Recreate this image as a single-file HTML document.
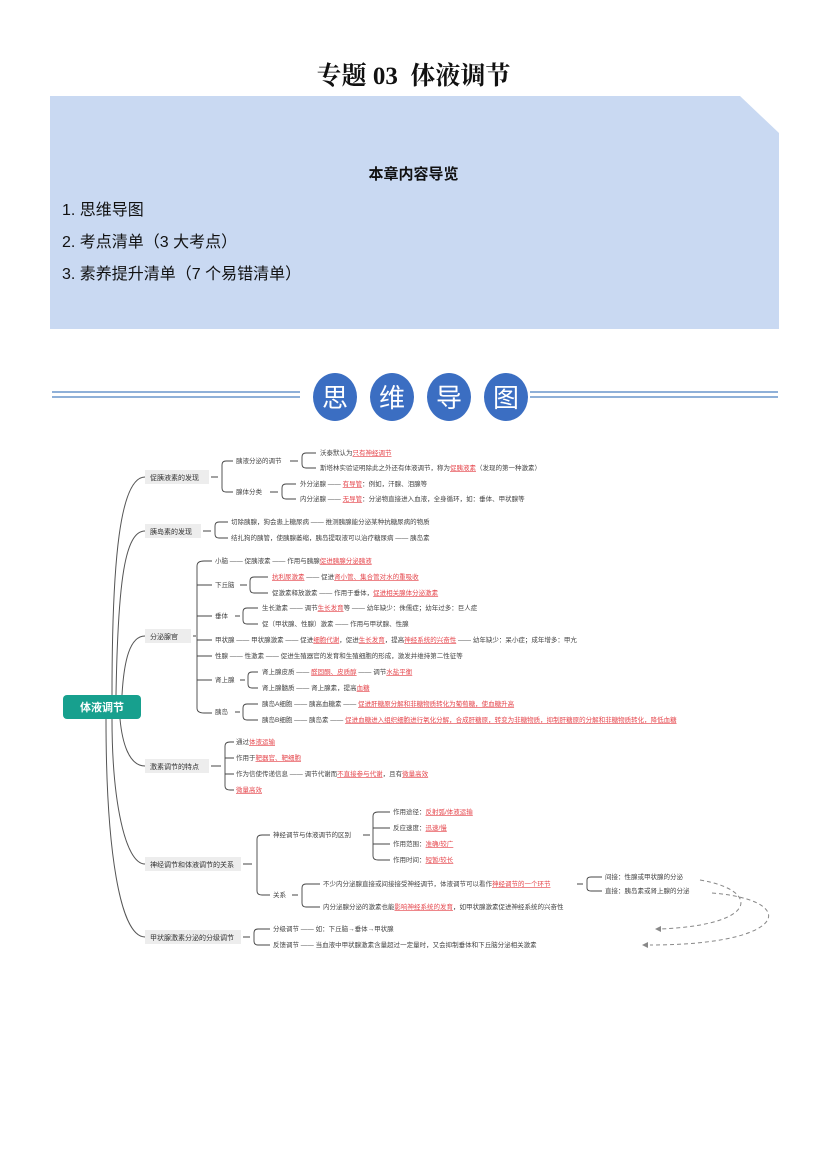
<!DOCTYPE html>
<html><head><meta charset="utf-8">
<style>
html,body{margin:0;padding:0;background:#fff;}
body{width:827px;height:1169px;position:relative;overflow:hidden;font-family:"Liberation Sans","Noto Sans CJK SC",sans-serif;}
.t{position:absolute;white-space:nowrap;}
</style></head><body>
<div class="t" style="left:0;width:827px;top:56px;text-align:center;font-size:25px;font-weight:bold;font-family:'Liberation Serif','Noto Serif CJK SC',serif;color:#111;">专题 03&nbsp; 体液调节</div>
<svg style="position:absolute;left:0;top:0" width="827" height="340">
<polygon points="50,96 740,96 779,133 779,329 50,329" fill="#c9d9f2"/>
</svg>
<div class="t" style="left:0;width:827px;top:163px;text-align:center;font-size:15px;font-weight:bold;color:#111;font-family:'Liberation Sans','Noto Sans CJK SC',sans-serif;">本章内容导览</div>
<div class="t" style="left:62px;top:196px;font-size:16px;color:#111;">1. 思维导图</div>
<div class="t" style="left:62px;top:228px;font-size:16px;color:#111;">2. 考点清单（3 大考点）</div>
<div class="t" style="left:62px;top:260px;font-size:16px;color:#111;">3. 素养提升清单（7 个易错清单）</div>

<svg style="position:absolute;left:0;top:0" width="827" height="1169" font-family="Liberation Sans, Noto Sans CJK SC, sans-serif">
<!-- banner -->
<rect x="52" y="391" width="248" height="2" fill="#8fb0d8"/>
<rect x="52" y="396" width="248" height="2" fill="#8fb0d8"/>
<rect x="530" y="391" width="248" height="2" fill="#8fb0d8"/>
<rect x="530" y="396" width="248" height="2" fill="#8fb0d8"/>
<g fill="#3b6ec2">
<ellipse cx="335" cy="397" rx="22" ry="24"/><ellipse cx="392" cy="397" rx="22" ry="24"/>
<ellipse cx="449" cy="397" rx="22" ry="24"/><ellipse cx="506" cy="397" rx="22" ry="24"/>
</g>
<g fill="#fff" font-size="26" text-anchor="middle">
<text x="335" y="407">思</text><text x="392" y="407">维</text><text x="449" y="407">导</text><text x="506" y="407">图</text>
</g>

<!-- root curves -->
<g fill="none" stroke="#555" stroke-width="1">
<path d="M112,695 C112,560 120,477 145,477"/>
<path d="M116,695 C118,580 125,531 145,531"/>
<path d="M122,695 C124,660 130,636 145,636"/>
<path d="M120,719 C122,740 128,766 145,766"/>
<path d="M112,719 C112,800 125,864 145,864"/>
<path d="M106,719 C106,850 120,937 145,937"/>
</g>
<rect x="63" y="695" width="78" height="24" rx="4" fill="#17a08e"/>
<text x="102" y="711" fill="#fff" font-size="11" font-weight="bold" text-anchor="middle">体液调节</text>

<!-- level1 nodes -->
<g fill="#ededed">
<rect x="145" y="470" width="64" height="14"/>
<rect x="145" y="524" width="56" height="14"/>
<rect x="145" y="629" width="46" height="14"/>
<rect x="145" y="759" width="64" height="14"/>
<rect x="145" y="857" width="96" height="14"/>
<rect x="145" y="930" width="96" height="14"/>
</g>
<g font-size="7" fill="#333">
<text x="150" y="480">促胰液素的发现</text>
<text x="150" y="534">胰岛素的发现</text>
<text x="150" y="639">分泌腺官</text>
<text x="150" y="769">激素调节的特点</text>
<text x="150" y="867">神经调节和体液调节的关系</text>
<text x="150" y="940">甲状腺激素分泌的分级调节</text>
</g>

<!-- brackets -->
<g fill="none" stroke="#444" stroke-width="0.9">
<path d="M211,477 H218 M226,461 Q222,461 222,465 V488 Q222,492 226,492 H233 M226,461 H233"/>
<path d="M290,461 H298 M306,453 Q302,453 302,457 V464 Q302,468 306,468 H316 M306,453 H316"/>
<path d="M270,492 H278 M286,484 Q282,484 282,488 V495 Q282,499 286,499 H296 M286,484 H296"/>
<path d="M203,531 H211 M219,522 Q215,522 215,526 V534 Q215,538 219,538 H228 M219,522 H228"/>
<path d="M193,636 H196 M204,561 Q197,561 197,566 V708 Q197,713 204,713 H212 M197,585 H212 M197,616 H212 M197,640 H212 M197,656 H212 M197,680 H212 M204,561 H212"/>
<path d="M240,585 H247 M254,577 Q250,577 250,581 V589 Q250,593 254,593 H268 M254,577 H268"/>
<path d="M235,616 H240 M247,608 Q243,608 243,612 V620 Q243,624 247,624 H258 M247,608 H258"/>
<path d="M240,680 H245 M252,672 Q248,672 248,676 V684 Q248,688 252,688 H258 M252,672 H258"/>
<path d="M235,712 H240 M247,704 Q243,704 243,708 V716 Q243,720 247,720 H258 M247,704 H258"/>
<path d="M211,766 H221 M230,742 Q225,742 225,746 V786 Q225,790 230,790 H234 M225,758 H234 M225,774 H234 M230,742 H234"/>
<path d="M243,864 H252 M262,835 Q257,835 257,839 V891 Q257,895 262,895 H270 M262,835 H270"/>
<path d="M363,835 H370 M378,812 Q373,812 373,816 V856 Q373,860 378,860 H390 M373,828 H390 M373,844 H390 M378,812 H390"/>
<path d="M292,895 H298 M306,884 Q302,884 302,888 V903 Q302,907 306,907 H320 M306,884 H320"/>
<path d="M577,884 H583 M591,877 Q587,877 587,880 V888 Q587,891 591,891 H602 M591,877 H602"/>
<path d="M243,937 H250 M258,929 Q254,929 254,933 V941 Q254,945 258,945 H270 M258,929 H270"/>
</g>
<!-- dashed arrows -->
<g fill="none" stroke="#888" stroke-width="1" stroke-dasharray="4,3">
<path d="M700,880 C760,890 760,925 660,929"/>
<path d="M712,893 C800,900 790,945 650,945"/>
</g>
<g fill="#888"><path d="M655,929 l6,-3 v6z"/><path d="M642,945 l6,-3 v6z"/></g>

<g font-size="6.5" fill="#444">
<text x="236" y="463">胰液分泌的调节</text>
<text x="320" y="455">沃泰默认为<tspan fill="#e5464c" text-decoration="underline">只有神经调节</tspan></text>
<text x="320" y="470">斯塔林实验证明除此之外还有体液调节，称为<tspan fill="#e5464c" text-decoration="underline">促胰液素</tspan>（发现的第一种激素）</text>
<text x="236" y="494">腺体分类</text>
<text x="300" y="486">外分泌腺 —— <tspan fill="#e5464c" text-decoration="underline">有导管</tspan>：例如，汗腺、泪腺等</text>
<text x="300" y="501">内分泌腺 —— <tspan fill="#e5464c" text-decoration="underline">无导管</tspan>：分泌物直接进入血液，全身循环，如：垂体、甲状腺等</text>
<text x="231" y="524">切除胰腺，狗会患上糖尿病 —— 推测胰腺能分泌某种抗糖尿病的物质</text>
<text x="231" y="540">结扎狗的胰管，使胰腺萎缩，胰岛提取液可以治疗糖尿病 —— 胰岛素</text>
<text x="215" y="563">小脑 —— 促胰液素 —— 作用与胰腺<tspan fill="#e5464c" text-decoration="underline">促进胰腺分泌胰液</tspan></text>
<text x="215" y="587">下丘脑</text>
<text x="272" y="579"><tspan fill="#e5464c" text-decoration="underline">抗利尿激素</tspan> —— 促进<tspan fill="#e5464c" text-decoration="underline">肾小管、集合管对水的重吸收</tspan></text>
<text x="272" y="595">促激素释放激素 —— 作用于垂体，<tspan fill="#e5464c" text-decoration="underline">促进相关腺体分泌激素</tspan></text>
<text x="215" y="618">垂体</text>
<text x="262" y="610">生长激素 —— 调节<tspan fill="#e5464c" text-decoration="underline">生长发育</tspan>等 —— 幼年缺少：侏儒症；幼年过多：巨人症</text>
<text x="262" y="626">促（甲状腺、性腺）激素 —— 作用与甲状腺、性腺</text>
<text x="215" y="642">甲状腺 —— 甲状腺激素 —— 促进<tspan fill="#e5464c" text-decoration="underline">细胞代谢</tspan>，促进<tspan fill="#e5464c" text-decoration="underline">生长发育</tspan>，提高<tspan fill="#e5464c" text-decoration="underline">神经系统的兴奋性</tspan> —— 幼年缺少：呆小症；成年增多：甲亢</text>
<text x="215" y="658">性腺 —— 性激素 —— 促进生殖器官的发育和生殖细胞的形成，激发并维持第二性征等</text>
<text x="215" y="682">肾上腺</text>
<text x="262" y="674">肾上腺皮质 —— <tspan fill="#e5464c" text-decoration="underline">醛固酮、皮质醇</tspan> —— 调节<tspan fill="#e5464c" text-decoration="underline">水盐平衡</tspan></text>
<text x="262" y="690">肾上腺髓质 —— 肾上腺素，提高<tspan fill="#e5464c" text-decoration="underline">血糖</tspan></text>
<text x="215" y="714">胰岛</text>
<text x="262" y="706">胰岛A细胞 —— 胰高血糖素 —— <tspan fill="#e5464c" text-decoration="underline">促进肝糖原分解和非糖物质转化为葡萄糖，使血糖升高</tspan></text>
<text x="262" y="722">胰岛B细胞 —— 胰岛素 —— <tspan fill="#e5464c" text-decoration="underline">促进血糖进入组织细胞进行氧化分解，合成肝糖原，转变为非糖物质，抑制肝糖原的分解和非糖物质转化，降低血糖</tspan></text>
<text x="236" y="744">通过<tspan fill="#e5464c" text-decoration="underline">体液运输</tspan></text>
<text x="236" y="760">作用于<tspan fill="#e5464c" text-decoration="underline">靶器官、靶细胞</tspan></text>
<text x="236" y="776">作为信使传递信息 —— 调节代谢而<tspan fill="#e5464c" text-decoration="underline">不直接参与代谢</tspan>，且有<tspan fill="#e5464c" text-decoration="underline">微量高效</tspan></text>
<text x="236" y="792" fill="#e5464c" text-decoration="underline">微量高效</text>
<text x="273" y="837">神经调节与体液调节的区别</text>
<text x="393" y="814">作用途径：<tspan fill="#e5464c" text-decoration="underline">反射弧/体液运输</tspan></text>
<text x="393" y="830">反应速度：<tspan fill="#e5464c" text-decoration="underline">迅速/慢</tspan></text>
<text x="393" y="846">作用范围：<tspan fill="#e5464c" text-decoration="underline">准确/较广</tspan></text>
<text x="393" y="862">作用时间：<tspan fill="#e5464c" text-decoration="underline">短暂/较长</tspan></text>
<text x="273" y="897">关系</text>
<text x="323" y="886">不少内分泌腺直接或间接接受神经调节，体液调节可以看作<tspan fill="#e5464c" text-decoration="underline">神经调节的一个环节</tspan></text>
<text x="605" y="879">间接：性腺或甲状腺的分泌</text>
<text x="605" y="893">直接：胰岛素或肾上腺的分泌</text>
<text x="323" y="909">内分泌腺分泌的激素也能<tspan fill="#e5464c" text-decoration="underline">影响神经系统的发育</tspan>，如甲状腺激素促进神经系统的兴奋性</text>
<text x="273" y="931">分级调节 —— 如：下丘脑→垂体→甲状腺</text>
<text x="273" y="947">反馈调节 —— 当血液中甲状腺激素含量超过一定量时，又会抑制垂体和下丘脑分泌相关激素</text>
</g>
</svg>
</body></html>
